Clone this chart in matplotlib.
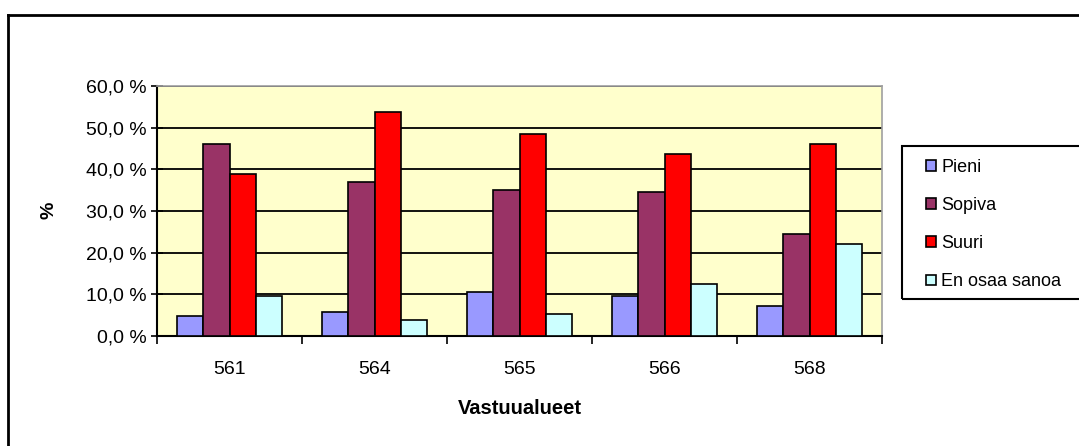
import numpy as np
import matplotlib
matplotlib.use("Agg")
import matplotlib.pyplot as plt
from matplotlib.patches import Rectangle
from matplotlib.lines import Line2D

# ----- data -----
alueet = ["561", "564", "565", "566", "568"]
sarjat = ["Pieni", "Sopiva", "Suuri", "En osaa sanoa"]
pieni = [4.7, 5.7, 10.6, 9.5, 7.1]
sopiva = [46.1, 36.9, 35.0, 34.5, 24.5]
suuri = [38.8, 53.8, 48.5, 43.7, 46.1]
eos = [9.5, 3.8, 5.3, 12.5, 22.1]
varit = ["#9999FF", "#993366", "#FF0000", "#CCFFFF"]
y_ticks = [0, 10, 20, 30, 40, 50, 60]

plt.rcParams["font.family"] = ["Liberation Sans", "DejaVu Sans"]

W, H = 1079, 446
fig = plt.figure(figsize=(W / 100, H / 100), dpi=100)
fig.patch.set_facecolor("white")

# outer chart frame (only top and left edges fall inside the picture)
fig.add_artist(Line2D([8 / W, 1.0], [1 - 15 / H, 1 - 15 / H], transform=fig.transFigure,
                      color="black", lw=2))
fig.add_artist(Line2D([8 / W, 8 / W], [0, 1 - 15 / H], transform=fig.transFigure,
                      color="black", lw=2))

ax = fig.add_axes([157 / W, 1 - 336 / H, 725 / W, 250 / H])
ax.set_facecolor("#FFFFCC")

x = np.arange(len(alueet))
bw = 1 / 5.5
for i, (vals, col, nimi) in enumerate(zip([pieni, sopiva, suuri, eos], varit, sarjat)):
    ax.bar(x + (i - 1.5) * bw, vals, bw, color=col, edgecolor="black", lw=1.2,
           label=nimi, zorder=3)

ax.set_xlim(-0.5, len(alueet) - 0.5)
ax.set_ylim(0, 60)
ax.set_yticks(y_ticks)
ax.set_yticklabels([f"{v:.1f}".replace(".", ",") + " %" for v in y_ticks], fontsize=14)
ax.yaxis.grid(True, color="black", lw=1.3, zorder=1)
ax.set_axisbelow(True)
ax.tick_params(axis="y", direction="inout", length=9, width=1.2, pad=3)

ax.set_xticks(x)
ax.set_xticklabels(alueet, fontsize=14)
ax.set_xticks(np.arange(-0.5, len(alueet)), minor=True)
ax.tick_params(axis="x", which="major", length=0, pad=18)
ax.tick_params(axis="x", which="minor", direction="out", length=6, width=1.2)

for s in ["left", "bottom"]:
    ax.spines[s].set_color("black")
    ax.spines[s].set_linewidth(1.5)
for s in ["top", "right"]:
    ax.spines[s].set_color("#A0A0A0")
    ax.spines[s].set_linewidth(1.2)

ax.set_xlabel("Vastuualueet", fontsize=14.5, fontweight="bold", labelpad=15)
fig.text(49 / W, 1 - 210 / H, "%", fontsize=14, fontweight="bold", rotation=90,
         ha="center", va="center")

# legend box runs past the right edge of the picture
fig.add_artist(Rectangle((902 / W, 1 - 299 / H), 200 / W, 153 / H, transform=fig.transFigure,
                         fill=False, edgecolor="black", lw=1.5))
fig.legend(loc="upper left", bbox_to_anchor=(926 / W, 1 - 159 / H), fontsize=13,
           frameon=False, handlelength=0.55, handleheight=0.55, handletextpad=0.3,
           labelspacing=1.17, borderpad=0, borderaxespad=0)

fig.savefig("out.png", dpi=100)
